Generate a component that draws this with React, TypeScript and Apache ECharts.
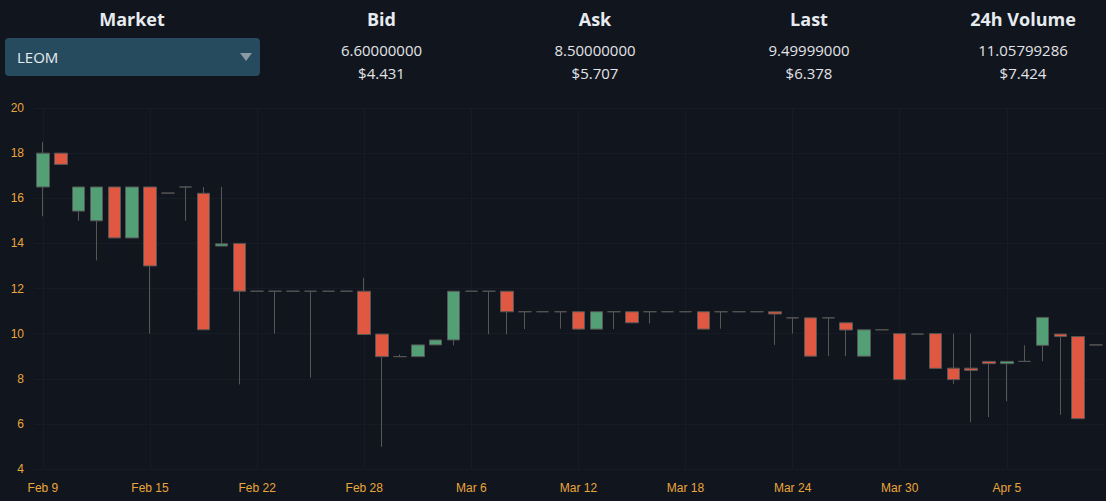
import React, { useEffect, useRef } from "react";
import * as echarts from "echarts";

const dates = [
  "Feb 9", "Feb 10", "Feb 11", "Feb 12", "Feb 13", "Feb 14", "Feb 15", "Feb 16", "Feb 17", "Feb 19",
  "Feb 20", "Feb 21", "Feb 22", "Feb 23", "Feb 24", "Feb 25", "Feb 26", "Feb 27", "Feb 28", "Mar 1",
  "Mar 2", "Mar 3", "Mar 4", "Mar 5", "Mar 6", "Mar 7", "Mar 8", "Mar 9", "Mar 10", "Mar 11",
  "Mar 12", "Mar 13", "Mar 14", "Mar 15", "Mar 16", "Mar 17", "Mar 18", "Mar 19", "Mar 20", "Mar 21",
  "Mar 22", "Mar 23", "Mar 24", "Mar 25", "Mar 26", "Mar 27", "Mar 28", "Mar 29", "Mar 30", "Mar 31",
  "Apr 1", "Apr 2", "Apr 3", "Apr 4", "Apr 5", "Apr 6", "Apr 7", "Apr 8", "Apr 9", "Apr 10",
];

const opens = [
  16.5, 18, 15.43, 15, 16.5, 14.24, 16.5, 16.23, 16.5, 16.22,
  13.88, 14, 11.88, 11.88, 11.88, 11.88, 11.88, 11.88, 11.88, 9.98,
  8.98, 8.98, 9.5, 9.72, 11.88, 11.88, 11.88, 10.97, 10.97, 10.97,
  10.97, 10.2, 10.97, 10.97, 10.97, 10.97, 10.97, 10.97, 10.97, 10.97,
  10.97, 10.97, 10.7, 10.7, 10.7, 10.48, 9, 10.17, 10, 9.98,
  10, 8.47, 8.47, 8.77, 8.67, 8.77, 9.48, 9.98, 9.87, 9.5,
];
const closes = [
  18, 17.5, 16.5, 16.5, 14.24, 16.5, 13, 16.23, 16.5, 10.17,
  13.98, 11.88, 11.88, 11.88, 11.88, 11.88, 11.88, 11.88, 9.96, 8.98,
  8.98, 9.5, 9.72, 11.88, 11.88, 11.88, 10.97, 10.97, 10.97, 10.97,
  10.2, 10.97, 10.97, 10.48, 10.97, 10.97, 10.97, 10.2, 10.97, 10.97,
  10.97, 10.87, 10.7, 9, 10.7, 10.16, 10.17, 10.17, 7.96, 9.98,
  8.46, 7.96, 8.37, 8.67, 8.77, 8.77, 10.72, 9.87, 6.23, 9.5,
];
const lows = [
  15.2, 17.5, 15, 13.25, 14.24, 14.24, 10, 16.23, 15, 10.17,
  13.88, 7.75, 11.88, 10, 11.88, 8.05, 11.88, 11.88, 9.96, 4.98,
  8.98, 8.98, 9.5, 9.48, 11.88, 9.97, 9.97, 10.2, 10.97, 10.22,
  10.2, 10.2, 10.2, 10.48, 10.45, 10.97, 10.97, 10.2, 10.22, 10.97,
  10.97, 9.5, 10, 9, 9, 9, 9, 10.17, 7.96, 9.98,
  8.46, 7.76, 6.07, 6.3, 7, 8.77, 8.78, 6.4, 6.23, 9.5,
];
const highs = [
  18.5, 18, 16.5, 16.5, 16.5, 16.5, 16.5, 16.23, 16.5, 16.5,
  16.5, 14, 11.88, 11.88, 11.88, 11.88, 11.88, 11.88, 12.47, 9.98,
  9.08, 9.5, 9.72, 11.88, 11.88, 11.88, 11.88, 10.97, 10.97, 10.97,
  10.97, 10.97, 10.97, 10.97, 10.97, 10.97, 10.97, 10.97, 10.97, 10.97,
  10.97, 10.97, 10.7, 10.7, 10.7, 10.48, 10.17, 10.17, 10, 9.98,
  10, 10, 10, 8.77, 8.77, 9.48, 10.72, 9.98, 9.87, 9.5,
];

const headerTitles = ["Market", "Bid", "Ask", "Last", "24h Volume"];
const headerValues = ["", "6.60000000", "8.50000000", "9.49999000", "11.05799286"];
const headerUsd = ["", "$4.431", "$5.707", "$6.378", "$7.424"];
const marketName = "LEOM";

const BG = "#11151d";
const UP = "#53a077";
const DOWN = "#e05742";
const WICK = "#565656";
const LABEL = "#eaa63c";
const GRID = "#161b24";

const colCenters = [132, 381.5, 595, 809, 1023];

export default function App() {
  const ref = useRef<HTMLDivElement>(null);

  useEffect(() => {
    document.body.style.margin = "0";
    document.body.style.background = BG;
    if (!ref.current) return;
    const chart = echarts.init(ref.current, undefined, { renderer: "svg" });
    const data = dates.map((_, i) => [opens[i], closes[i], lows[i], highs[i]]);
    chart.setOption({
      animation: false,
      backgroundColor: "transparent",
      grid: { left: 34, right: 1, top: 108, bottom: 32, containLabel: false },
      xAxis: {
        type: "category",
        data: dates,
        boundaryGap: true,
        axisLine: { show: false },
        axisTick: { show: false, interval: 5, alignWithLabel: true },
        axisLabel: {
          interval: 5,
          color: LABEL,
          fontSize: 12,
          margin: 13,
          fontFamily: "Liberation Sans, Arial, sans-serif",
        },
        splitLine: { show: true, interval: 5, alignWithLabel: true, lineStyle: { color: GRID, width: 1 } },
      },
      yAxis: {
        type: "value",
        min: 4,
        max: 20,
        interval: 2,
        axisLine: { show: false },
        axisTick: { show: false },
        axisLabel: {
          color: LABEL,
          fontSize: 12,
          margin: 10,
          fontFamily: "Liberation Sans, Arial, sans-serif",
        },
        splitLine: { show: true, lineStyle: { color: GRID, width: 1 } },
      },
      series: [
        {
          type: "candlestick",
          data,
          barWidth: 13,
          itemStyle: {
            color: UP,
            color0: DOWN,
            borderColor: WICK,
            borderColor0: WICK,
            borderColorDoji: WICK,
            borderWidth: 1,
          },
        },
      ],
    });
    return () => chart.dispose();
  }, []);

  return (
    <div
      style={{
        position: "relative",
        width: 1106,
        height: 501,
        background: BG,
        overflow: "hidden",
        fontFamily: "'Open Sans', 'Noto Sans', sans-serif",
      }}
    >
      <div ref={ref} style={{ position: "absolute", left: 0, top: 0, width: 1106, height: 501 }} />
      {headerTitles.map((t, i) => (
        <div
          key={t}
          style={{
            position: "absolute",
            left: colCenters[i] - 100,
            width: 200,
            top: 6,
            textAlign: "center",
            color: "#e6ebf0",
            fontSize: 18,
            fontWeight: 700,
            lineHeight: "26px",
          }}
        >
          {t}
        </div>
      ))}
      {headerValues.map((v, i) =>
        i === 0 ? null : (
          <div
            key={"v" + i}
            style={{
              position: "absolute",
              left: colCenters[i] - 100,
              width: 200,
              top: 39,
              textAlign: "center",
              color: "#e2e4e8",
              fontSize: 15,
              lineHeight: "22px",
            }}
          >
            <div>{v}</div>
            <div style={{ marginTop: 1 }}>{headerUsd[i]}</div>
          </div>
        )
      )}
      <div
        style={{
          position: "absolute",
          left: 5,
          top: 38,
          width: 255,
          height: 38,
          background: "#274b5e",
          borderRadius: 4,
          color: "#e8edf0",
          fontSize: 15,
          lineHeight: "38px",
          boxSizing: "border-box",
          paddingLeft: 12,
        }}
      >
        {marketName}
        <div
          style={{
            position: "absolute",
            right: 8,
            top: 15,
            width: 0,
            height: 0,
            borderLeft: "6px solid transparent",
            borderRight: "6px solid transparent",
            borderTop: "8px solid #8c9aa3",
          }}
        />
      </div>
    </div>
  );
}
